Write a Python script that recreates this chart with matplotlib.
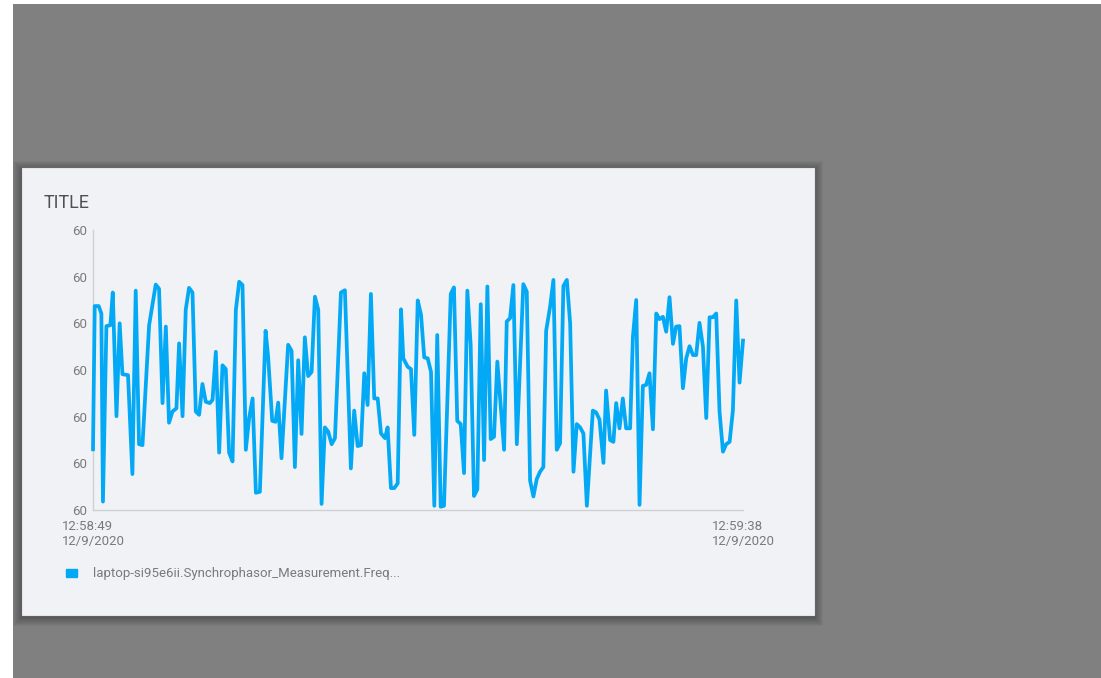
import matplotlib.pyplot as plt
from matplotlib.patches import Rectangle, Patch

# seconds after 12:58:49 and frequency readings (Hz)
seconds = [0.00, 0.13, 0.43, 0.63, 0.75, 1.01, 1.31, 1.49, 1.77, 2.01,
           2.22, 2.64, 2.97, 3.22, 3.47, 3.73, 4.23, 4.73, 4.98, 5.24,
           5.49, 5.73, 5.99, 6.29, 6.49, 6.75, 6.99, 7.24, 7.50, 7.75,
           8.00, 8.25, 8.50, 8.80, 9.01, 9.26, 9.51, 9.76, 10.01, 10.26,
           10.52, 10.77, 11.02, 11.27, 11.52, 11.77, 12.03, 12.28, 12.58, 13.01,
           13.20, 13.51, 13.76, 13.96, 14.21, 14.71, 14.97, 15.22, 15.47, 15.72,
           15.97, 16.22, 16.48, 16.73, 16.98, 17.23, 17.48, 17.73, 17.99, 18.24,
           18.69, 18.99, 19.44, 19.69, 19.95, 20.20, 20.45, 20.70, 20.95, 21.20,
           21.46, 21.71, 22.01, 22.21, 22.46, 22.71, 22.97, 23.22, 23.39, 23.72,
           23.97, 24.22, 24.48, 24.73, 24.97, 25.23, 25.48, 25.73, 25.95, 26.21,
           26.46, 26.97, 27.21, 27.46, 27.72, 27.97, 28.22, 28.47, 28.72, 28.97,
           29.23, 29.48, 29.73, 29.98, 30.23, 30.48, 30.99, 31.19, 31.44, 31.69,
           31.95, 32.44, 32.70, 32.95, 33.20, 33.45, 33.70, 33.95, 34.16, 34.46,
           34.71, 34.96, 35.21, 35.46, 35.72, 35.97, 36.22, 36.47, 36.72, 36.97,
           37.23, 37.68, 37.93, 38.18, 38.48, 38.68, 38.98, 39.23, 39.44, 39.69,
           39.94, 40.19, 40.49, 40.70, 40.95, 41.20, 41.45, 41.70, 41.95, 42.21,
           42.46, 42.70, 42.96, 43.21, 43.46, 43.72, 43.96, 44.21, 44.47, 44.72,
           44.97, 45.23, 45.47, 45.72, 45.98, 46.23, 46.48, 46.73, 46.98, 47.23,
           47.49, 47.73, 47.99, 48.24, 48.49, 48.74, 49.00]

freq = [59.9830, 60.0137, 60.0137, 60.0121, 59.9718, 60.0094, 60.0096, 60.0166, 59.9901, 60.0100,
        59.9991, 59.9989, 59.9777, 60.0170, 59.9841, 59.9839, 60.0096, 60.0183, 60.0174, 59.9929,
        60.0093, 59.9887, 59.9911, 59.9918, 60.0057, 59.9901, 60.0129, 60.0176, 60.0166, 59.9911,
        59.9904, 59.9970, 59.9932, 59.9929, 59.9936, 60.0039, 59.9823, 60.0010, 60.0002, 59.9823,
        59.9804, 60.0129, 60.0189, 60.0182, 59.9829, 59.9897, 59.9939, 59.9737, 59.9739, 60.0084,
        60.0029, 59.9891, 59.9889, 59.9930, 59.9811, 60.0054, 60.0041, 59.9792, 60.0021, 59.9863,
        60.0070, 59.9987, 59.9996, 60.0157, 60.0129, 59.9713, 59.9877, 59.9868, 59.9841, 59.9854,
        60.0166, 60.0171, 59.9789, 59.9913, 59.9837, 59.9839, 59.9993, 59.9925, 60.0163, 59.9939,
        59.9939, 59.9864, 59.9854, 59.9877, 59.9747, 59.9747, 59.9757, 60.0130, 60.0025, 60.0007,
        60.0002, 59.9861, 60.0149, 60.0118, 60.0027, 60.0025, 59.9996, 59.9709, 60.0075, 59.9707,
        59.9709, 60.0163, 60.0177, 59.9891, 59.9884, 59.9779, 60.0170, 60.0054, 59.9730, 59.9744,
        60.0141, 59.9807, 60.0179, 59.9852, 59.9857, 60.0018, 59.9829, 60.0104, 60.0111, 60.0182,
        59.9841, 60.0184, 60.0168, 59.9763, 59.9729, 59.9766, 59.9782, 59.9792, 60.0084, 60.0136,
        60.0193, 59.9829, 59.9843, 60.0180, 60.0193, 60.0100, 59.9782, 59.9884, 59.9877, 59.9864,
        59.9709, 59.9913, 59.9909, 59.9894, 59.9801, 59.9956, 59.9850, 59.9846, 59.9929, 59.9875,
        59.9939, 59.9875, 59.9875, 60.0071, 60.0150, 59.9711, 59.9966, 59.9968, 59.9993, 59.9873,
        60.0121, 60.0109, 60.0114, 60.0082, 60.0156, 60.0056, 60.0093, 60.0094, 59.9961, 60.0025,
        60.0051, 60.0032, 60.0032, 60.0101, 60.0050, 59.9897, 60.0113, 60.0113, 60.0121, 59.9911,
        59.9825, 59.9841, 59.9846, 59.9914, 60.0149, 59.9973, 60.0063]

x_ticks = [0, 49]
x_labels = ['12:58:49\n12/9/2020', '12:59:38\n12/9/2020']
y_ticks = [59.97, 59.98, 59.99, 60.00, 60.01, 60.02, 60.03]
series_name = 'laptop-si95e6ii.Synchrophasor_Measurement.Freq...'

W, H = 1101, 678
plt.rcParams['font.family'] = ['Roboto', 'DejaVu Sans']
fig = plt.figure(figsize=(W / 100, H / 100), dpi=100, facecolor='white')

# page background + card with soft shadow, drawn in pixel coordinates
bg = fig.add_axes([0, 0, 1, 1])
bg.set_xlim(0, W)
bg.set_ylim(H, 0)
bg.axis('off')
bg.add_patch(Rectangle((13, 4), W - 13, H - 4, color='#808080', lw=0))
for i in range(9, 0, -1):
    bg.add_patch(Rectangle((22 - i, 168 - i + 2), 792 + 2 * i, 447 + 2 * i,
                           color='black', alpha=0.035, lw=0))
bg.add_patch(Rectangle((22, 168), 792, 447, facecolor='#f1f2f6',
                       edgecolor='#e4e6ea', lw=0.8))
bg.text(44, 208, 'TITLE', fontsize=13, color='#505050', va='baseline')

# chart area
ax = fig.add_axes([93 / W, 1 - 510 / H, 650 / W, 280 / H])
ax.set_facecolor('none')
ax.plot(seconds, freq, color='#03a9f4', lw=2.7, clip_on=False)
ax.set_xlim(0, 49)
ax.set_ylim(59.97, 60.03)
ax.set_yticks(y_ticks, ['%.0f' % v for v in y_ticks])
ax.set_xticks(x_ticks, x_labels)
for lbl in ax.get_xticklabels():
    lbl.set_multialignment('left')
    lbl.set_linespacing(1.25)
ax.tick_params(length=0, labelsize=9.5, labelcolor='#7a7a7a')
ax.tick_params(axis='y', pad=4)
ax.tick_params(axis='x', pad=7)
for side in ['top', 'right']:
    ax.spines[side].set_visible(False)
for side in ['left', 'bottom']:
    ax.spines[side].set_color('#cdd1d6')
    ax.spines[side].set_linewidth(1)
    ax.spines[side].set_zorder(0)

fig.legend(handles=[Patch(color='#03a9f4', label=series_name)],
           loc='center left', bbox_to_anchor=(66 / W, 1 - 574 / H),
           frameon=False, fontsize=9.5, labelcolor='#7a7a7a',
           handlelength=0.85, handleheight=0.6, handletextpad=1.2,
           borderpad=0, borderaxespad=0)

fig.savefig('out.png', dpi=100)
